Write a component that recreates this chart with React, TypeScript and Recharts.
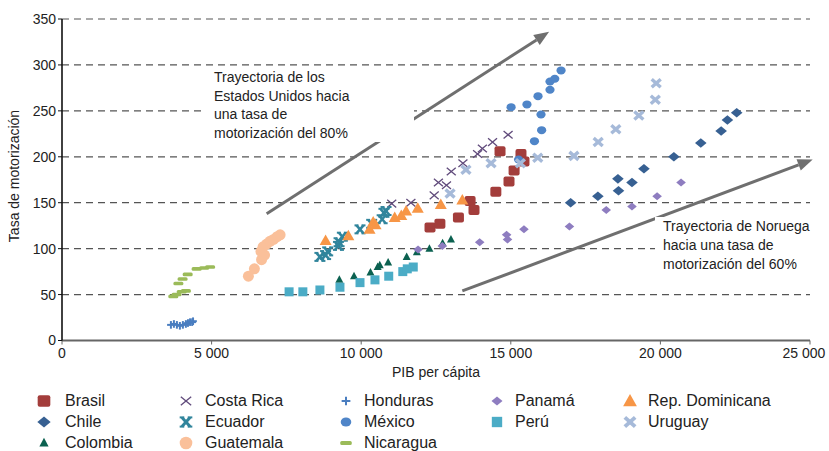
import React from 'react';
import {
  ScatterChart,
  Scatter,
  XAxis,
  YAxis,
  CartesianGrid,
  ReferenceLine,
  Label,
} from 'recharts';

// values: [PIB per cápita, tasa de motorización]
const brasil = [[12300, 123], [12630, 127], [13250, 134], [13640, 152], [13770, 142], [14500, 162], [14940, 173], [15110, 185], [14640, 206], [15340, 203], [15440, 195]];
const chile = [[17000, 150], [17910, 157], [18580, 176], [18600, 163], [19050, 172], [19450, 187], [20450, 200], [21350, 215], [22030, 228], [22240, 240], [22550, 248]];
const colombia = [[9270, 66], [9760, 70], [10310, 74], [10550, 80], [10620, 82], [10900, 85], [11520, 91], [11860, 96], [12280, 100], [12720, 106], [13000, 110]];
const costaRica = [[11020, 149], [11660, 150], [12440, 158], [12580, 172], [12850, 169], [13010, 184], [13400, 193], [13890, 203], [14050, 209], [14390, 216], [14910, 224]];
const ecuador = [[8620, 91], [8810, 93], [8880, 97], [9240, 103], [9260, 107], [9370, 113], [9960, 121], [10350, 127], [10700, 132], [10760, 139], [10830, 141]];
const guatemala = [[6230, 70], [6430, 78], [6670, 88], [6770, 93], [6650, 97], [6720, 102], [6840, 105], [6950, 108], [7070, 110], [7190, 113], [7290, 115]];
const honduras = [[3640, 17], [3740, 18], [3840, 17], [3940, 16], [4040, 17], [4140, 18], [4210, 19], [4280, 20], [4350, 20], [4380, 21]];
const mexico = [[15260, 197], [15790, 217], [16030, 229], [16010, 246], [15010, 254], [15540, 257], [15910, 266], [16310, 273], [16310, 282], [16470, 285], [16680, 294]];
const nicaragua = [[3720, 48], [3830, 50], [4000, 53], [4140, 54], [3890, 62], [4030, 67], [4200, 72], [4500, 78], [4750, 79], [4950, 80]];
const panama = [[11900, 99], [12710, 103], [13960, 107], [14860, 115], [14890, 110], [15440, 121], [16960, 124], [18190, 142], [19050, 146], [19890, 157], [20690, 172]];
const peru = [[7590, 53], [8050, 53], [8620, 55], [9290, 58], [9960, 63], [10460, 66], [10920, 70], [11390, 75], [11540, 78], [11740, 80]];
const repDominicana = [[8810, 109], [9570, 114], [10280, 121], [10400, 129], [10480, 126], [11120, 134], [11340, 136], [11500, 141], [11890, 144], [12660, 148], [13380, 153]];
const uruguay = [[12970, 160], [13500, 186], [14340, 193], [15320, 193], [15900, 199], [17110, 201], [17920, 216], [18510, 230], [19280, 245], [19830, 262], [19860, 280]];

// trajectory arrows, start and end in data units
const usaArrow = [[6840, 138], [16280, 336]];
const norwayArrow = [[13380, 54], [25090, 197]];

const xTicks = [0, 5000, 10000, 15000, 20000, 25000];
const yTicks = [0, 50, 100, 150, 200, 250, 300, 350];

const series = [
  { name: 'Brasil', data: brasil, kind: 'square', color: '#A33D3B' },
  { name: 'Chile', data: chile, kind: 'diamond', color: '#376092' },
  { name: 'Colombia', data: colombia, kind: 'smallTriangle', color: '#0B6150' },
  { name: 'Costa Rica', data: costaRica, kind: 'x', color: '#604A7B' },
  { name: 'Ecuador', data: ecuador, kind: 'serifX', color: '#31859C' },
  { name: 'Guatemala', data: guatemala, kind: 'circle', color: '#FAC09A' },
  { name: 'Honduras', data: honduras, kind: 'plus', color: '#4A7EC0' },
  { name: 'México', data: mexico, kind: 'ellipse', color: '#4F85C8' },
  { name: 'Nicaragua', data: nicaragua, kind: 'dash', color: '#9BBB59' },
  { name: 'Panamá', data: panama, kind: 'smallDiamond', color: '#8E7DC0' },
  { name: 'Perú', data: peru, kind: 'smallSquare', color: '#4BACC6' },
  { name: 'Rep. Dominicana', data: repDominicana, kind: 'triangle', color: '#F79646' },
  { name: 'Uruguay', data: uruguay, kind: 'thickX', color: '#A6BAD9' },
];

// legend grid: which series sits in which column
const legendColumns = [
  ['Brasil', 'Chile', 'Colombia'],
  ['Costa Rica', 'Ecuador', 'Guatemala'],
  ['Honduras', 'México', 'Nicaragua'],
  ['Panamá', 'Perú'],
  ['Rep. Dominicana', 'Uruguay'],
];

const FONT = '"Liberation Sans", Arial, sans-serif';

const fmt = (v: number) => String(v).replace(/\B(?=(\d{3})+(?!\d))/g, ' ');

function marker(kind: string, color: string, cx: number, cy: number, s = 1) {
  switch (kind) {
    case 'square':
      return <rect x={cx - 5.5 * s} y={cy - 5 * s} width={11 * s} height={10 * s} rx={2} fill={color} />;
    case 'smallSquare':
      return <rect x={cx - 4.5 * s} y={cy - 4.5 * s} width={9 * s} height={9 * s} fill={color} />;
    case 'diamond':
      return <polygon points={`${cx},${cy - 4.8 * s} ${cx + 5.8 * s},${cy} ${cx},${cy + 4.8 * s} ${cx - 5.8 * s},${cy}`} fill={color} />;
    case 'smallDiamond':
      return <polygon points={`${cx},${cy - 4 * s} ${cx + 4.8 * s},${cy} ${cx},${cy + 4 * s} ${cx - 4.8 * s},${cy}`} fill={color} />;
    case 'triangle':
      return <polygon points={`${cx},${cy - 6 * s} ${cx + 6 * s},${cy + 4.5 * s} ${cx - 6 * s},${cy + 4.5 * s}`} fill={color} />;
    case 'smallTriangle':
      return <polygon points={`${cx},${cy - 4.5 * s} ${cx + 4 * s},${cy + 3 * s} ${cx - 4 * s},${cy + 3 * s}`} fill={color} />;
    case 'circle':
      return <circle cx={cx} cy={cy} r={5.5 * s} fill={color} />;
    case 'ellipse':
      return <ellipse cx={cx} cy={cy} rx={4.6 * s} ry={4 * s} fill={color} />;
    case 'x':
      return (
        <g stroke={color} strokeWidth={1.3}>
          <line x1={cx - 4.5 * s} y1={cy - 3.8 * s} x2={cx + 4.5 * s} y2={cy + 3.8 * s} />
          <line x1={cx - 4.5 * s} y1={cy + 3.8 * s} x2={cx + 4.5 * s} y2={cy - 3.8 * s} />
        </g>
      );
    case 'thickX':
      return (
        <g stroke={color} strokeWidth={3.4 * s}>
          <line x1={cx - 4.5 * s} y1={cy - 4 * s} x2={cx + 4.5 * s} y2={cy + 4 * s} />
          <line x1={cx - 4.5 * s} y1={cy + 4 * s} x2={cx + 4.5 * s} y2={cy - 4 * s} />
        </g>
      );
    case 'serifX':
      return (
        <g stroke={color} strokeWidth={2.6 * s}>
          <line x1={cx - 3.5 * s} y1={cy - 4 * s} x2={cx + 3.5 * s} y2={cy + 4 * s} />
          <line x1={cx - 3.5 * s} y1={cy + 4 * s} x2={cx + 3.5 * s} y2={cy - 4 * s} />
          <line x1={cx - 5.5 * s} y1={cy - 4 * s} x2={cx - 1.5 * s} y2={cy - 4 * s} strokeWidth={2} />
          <line x1={cx + 1.5 * s} y1={cy - 4 * s} x2={cx + 5.5 * s} y2={cy - 4 * s} strokeWidth={2} />
          <line x1={cx - 5.5 * s} y1={cy + 4 * s} x2={cx - 1.5 * s} y2={cy + 4 * s} strokeWidth={2} />
          <line x1={cx + 1.5 * s} y1={cy + 4 * s} x2={cx + 5.5 * s} y2={cy + 4 * s} strokeWidth={2} />
        </g>
      );
    case 'plus':
      return (
        <g stroke={color} strokeWidth={2}>
          <line x1={cx - 3.8 * s} y1={cy} x2={cx + 3.8 * s} y2={cy} />
          <line x1={cx} y1={cy - 3.8 * s} x2={cx} y2={cy + 3.8 * s} />
        </g>
      );
    case 'dash':
      return <rect x={cx - 5 * s} y={cy - 1.8 * s} width={10 * s} height={3.6 * s} rx={1.5} fill={color} />;
    default:
      return <circle cx={cx} cy={cy} r={4} fill={color} />;
  }
}

// line plus arrow head, drawn from the reference line's own coordinates
const Arrow = (p: any) => {
  const { x1, y1, x2, y2 } = p;
  const a = Math.atan2(y2 - y1, x2 - x1);
  const len = 15;
  const half = 6;
  const bx = x2 - len * Math.cos(a);
  const by = y2 - len * Math.sin(a);
  const nx = -Math.sin(a) * half;
  const ny = Math.cos(a) * half;
  return (
    <g>
      <line x1={x1} y1={y1} x2={bx} y2={by} stroke="#6F6F6F" strokeWidth={3} />
      <polygon points={`${x2},${y2} ${bx + nx},${by + ny} ${bx - nx},${by - ny}`} fill="#6F6F6F" />
    </g>
  );
};

// x tick label; the last one is nudged left so it stays inside the picture
const XTick = (p: any) => {
  const v = p.payload.value;
  const shift = v === 25000 ? -5 : 0;
  return (
    <text x={p.x + shift} y={p.y} dy="0.85em" textAnchor="middle" fontSize={14} fill="#222" fontFamily={FONT}>
      {fmt(v)}
    </text>
  );
};

const noteStyle: React.CSSProperties = {
  position: 'absolute',
  background: '#fff',
  fontFamily: FONT,
  fontSize: 14,
  color: '#222',
  whiteSpace: 'pre',
};

export default function App() {
  const toPoints = (d: number[][]) => d.map(([x, y]) => ({ x, y }));

  return (
    <div style={{ position: 'absolute', left: 0, top: 0, width: 829, height: 451, background: '#fff', overflow: 'hidden' }}>
      <ScatterChart width={829} height={380} margin={{ top: 19, right: 19, left: 0, bottom: 0 }}>
        <CartesianGrid vertical={false} strokeDasharray="7 5" stroke="#555" strokeWidth={1.2} />
        <XAxis
          type="number"
          dataKey="x"
          domain={[0, 25000]}
          ticks={xTicks}
          height={39.5}
          tickSize={4}
          axisLine={{ stroke: '#666', strokeWidth: 2 }}
          tickLine={{ stroke: '#666' }}
          tick={<XTick />}
        >
          <Label
            content={() => (
              <text x={436} y={377} textAnchor="middle" fontSize={14} fill="#222" fontFamily={FONT}>
                PIB per cápita
              </text>
            )}
          />
        </XAxis>
        <YAxis
          type="number"
          dataKey="y"
          domain={[0, 350]}
          ticks={yTicks}
          width={62}
          tickSize={4}
          axisLine={{ stroke: '#111', strokeWidth: 1.6 }}
          tickLine={{ stroke: '#111' }}
          tick={{ fontSize: 14, fill: '#222', fontFamily: FONT }}
        >
          <Label
            content={() => (
              <text
                x={19}
                y={176}
                transform="rotate(-90 19 176)"
                textAnchor="middle"
                fontSize={14}
                fill="#222"
                fontFamily={FONT}
              >
                Tasa de motorización
              </text>
            )}
          />
        </YAxis>
        {series.map((s) => (
          <Scatter
            key={s.name}
            name={s.name}
            data={toPoints(s.data)}
            isAnimationActive={false}
            shape={(p: any) => marker(s.kind, s.color, p.cx, p.cy)}
          />
        ))}
        <ReferenceLine
          segment={[{ x: usaArrow[0][0], y: usaArrow[0][1] }, { x: usaArrow[1][0], y: usaArrow[1][1] }]}
          ifOverflow="visible"
          shape={Arrow}
        />
        <ReferenceLine
          segment={[{ x: norwayArrow[0][0], y: norwayArrow[0][1] }, { x: norwayArrow[1][0], y: norwayArrow[1][1] }]}
          ifOverflow="visible"
          shape={Arrow}
        />
      </ScatterChart>

      <div style={{ ...noteStyle, left: 205, top: 68, width: 200, paddingLeft: 9, lineHeight: '18.5px' }}>
        {'Trayectoria de los\nEstados Unidos hacia\nuna tasa de\nmotorización del 80%'}
      </div>
      <div style={{ ...noteStyle, left: 655, top: 217, width: 174, paddingLeft: 8, lineHeight: '18.8px' }}>
        {'Trayectoria de Noruega\nhacia una tasa de\nmotorización del 60%'}
      </div>

      {legendColumns.map((col, ci) =>
        col.map((name, ri) => {
          const s = series.find((d) => d.name === name)!;
          const mx = [44, 186, 346, 497, 630][ci];
          const tx = [65, 205, 364, 515, 648][ci];
          const cy = 400.5 + ri * 21;
          return (
            <React.Fragment key={name}>
              <svg width={20} height={20} style={{ position: 'absolute', left: mx - 10, top: cy - 10 }}>
                {marker(s.kind, s.color, 10, 10, 1.15)}
              </svg>
              <div
                style={{
                  position: 'absolute',
                  left: tx,
                  top: cy - 10,
                  lineHeight: '20px',
                  fontSize: 16,
                  fontFamily: FONT,
                  color: '#222',
                  whiteSpace: 'nowrap',
                }}
              >
                {name}
              </div>
            </React.Fragment>
          );
        })
      )}
    </div>
  );
}
